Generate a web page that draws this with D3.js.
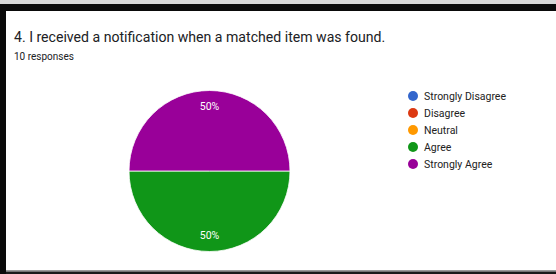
<!DOCTYPE html>
<html>
<head>
<meta charset="utf-8">
<script src="https://cdn.jsdelivr.net/npm/d3@7"></script>
<style>
  html, body { margin: 0; padding: 0; background: #fff; }
  svg { display: block; font-family: Roboto, Arial, sans-serif; }
</style>
</head>
<body>
<svg id="chart" width="556" height="274"></svg>
<script>
const title = "4. I received a notification when a matched item was found.";
const subtitle = "10 responses";
const categories = ["Strongly Disagree", "Disagree", "Neutral", "Agree", "Strongly Agree"];
const counts = [0, 0, 0, 5, 5];
const colors = ["#3366cc", "#dc3912", "#ff9900", "#109618", "#990099"];

const svg = d3.select("#chart");
const width = 556, height = 274;

// screenshot frame
svg.append("rect").attr("x", 0).attr("y", 0).attr("width", width).attr("height", height).attr("fill", "#fff");
svg.append("rect").attr("x", 0).attr("y", 0).attr("width", width).attr("height", 4).attr("fill", "#d8d8d8");
svg.append("rect").attr("x", 0).attr("y", 4).attr("width", width).attr("height", 7).attr("fill", "#0a0a0a");
svg.append("rect").attr("x", 0).attr("y", 4).attr("width", 6).attr("height", height - 4).attr("fill", "#0a0a0a");
svg.append("rect").attr("x", 6).attr("y", 270).attr("width", width - 6).attr("height", 1.5).attr("fill", "#9a9a9a");
svg.append("rect").attr("x", 6).attr("y", 271.5).attr("width", width - 6).attr("height", 3).attr("fill", "#1a1a1a");

svg.append("text")
  .attr("x", 14).attr("y", 42)
  .attr("fill", "#202124")
  .style("font-size", "14.1px")
  .text(title);

svg.append("text")
  .attr("x", 14).attr("y", 60)
  .attr("fill", "#202124")
  .style("font-size", "10px")
  .text(subtitle);

const total = d3.sum(counts);
const data = categories.map((c, i) => ({ cat: c, value: counts[i], color: colors[i] }));

const cx = 209.5, cy = 171, r = 80.5;
// slices start at 3 o'clock, going clockwise
const pie = d3.pie().value(d => d.value).sort(null).startAngle(Math.PI / 2).endAngle(Math.PI * 2.5);
const arc = d3.arc().innerRadius(0).outerRadius(r);
const labelArc = d3.arc().innerRadius(r * 0.8).outerRadius(r * 0.8);

const g = svg.append("g").attr("transform", `translate(${cx},${cy})`);
const arcs = pie(data).filter(d => d.data.value > 0);

g.selectAll("path")
  .data(arcs)
  .join("path")
  .attr("d", arc)
  .attr("fill", d => d.data.color)
  .attr("stroke", "#fff")
  .attr("stroke-width", 0.8);

g.selectAll("text")
  .data(arcs)
  .join("text")
  .attr("transform", d => `translate(${labelArc.centroid(d)})`)
  .attr("text-anchor", "middle")
  .attr("dy", "0.35em")
  .attr("fill", "#fff")
  .style("font-size", "10.5px")
  .text(d => Math.round(d.data.value / total * 100) + "%");

const legend = svg.append("g").attr("transform", "translate(413,96)");
const rows = legend.selectAll("g")
  .data(data)
  .join("g")
  .attr("transform", (d, i) => `translate(0,${i * 17})`);

rows.append("circle").attr("r", 5).attr("fill", d => d.color);
rows.append("text")
  .attr("x", 11).attr("dy", "0.35em")
  .attr("fill", "#222")
  .style("font-size", "10.5px")
  .text(d => d.cat);
</script>
</body>
</html>
